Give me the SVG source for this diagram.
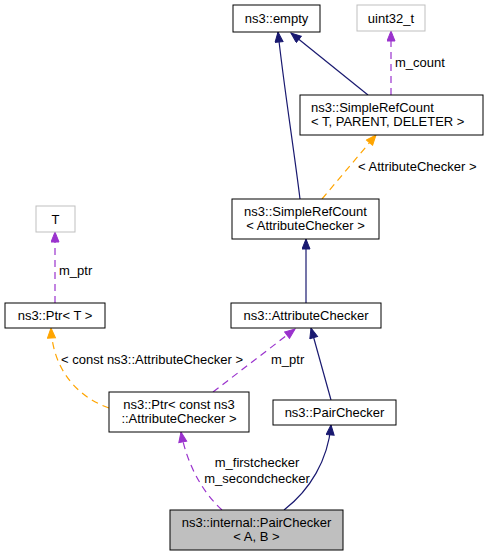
<svg xmlns="http://www.w3.org/2000/svg" width="487" height="557" viewBox="0 0 487 557">
<style>
text{font-family:"Liberation Sans",Arial,sans-serif;font-size:13px;fill:#000}
.c{text-anchor:middle}
.box{fill:#fff;stroke:#000;stroke-width:1}
.gbox{fill:#fff;stroke:#bfbfbf;stroke-width:1}
.sel{fill:#bfbfbf;stroke:#000;stroke-width:1}
.inh{fill:none;stroke:#191970;stroke-width:1.2}
.use{fill:none;stroke:#9a32cd;stroke-width:1.2;stroke-dasharray:7,5}
.tpl{fill:none;stroke:#ffa500;stroke-width:1.2;stroke-dasharray:7,5}
</style>
<defs>
<marker id="aN" markerUnits="userSpaceOnUse" markerWidth="12" markerHeight="10" refX="11" refY="4.5" orient="auto"><path d="M1,0.5 L11,4.5 L1,8.5 z" fill="#191970" stroke="#191970"/></marker>
<marker id="aP" markerUnits="userSpaceOnUse" markerWidth="12" markerHeight="10" refX="11" refY="4.5" orient="auto"><path d="M1,0.5 L11,4.5 L1,8.5 z" fill="#9a32cd" stroke="#9a32cd"/></marker>
<marker id="aO" markerUnits="userSpaceOnUse" markerWidth="12" markerHeight="10" refX="11" refY="4.5" orient="auto"><path d="M1,0.5 L11,4.5 L1,8.5 z" fill="#ffa500" stroke="#ffa500"/></marker>
</defs>
<g id="connectors">
<path class="inh" d="M300,199 C294,150 283,80 278,32" marker-end="url(#aN)"/>
<path class="inh" d="M368,95 L291,33" marker-end="url(#aN)"/>
<path class="use" d="M391,95 L391,31" marker-end="url(#aP)"/>
<text x="395" y="67">m_count</text>
<path class="tpl" d="M322,199 L376,135" marker-end="url(#aO)"/>
<text x="358" y="171">&lt; AttributeChecker &gt;</text>
<path class="inh" d="M306,303 L306,239" marker-end="url(#aN)"/>
<path class="inh" d="M331,400 L311,328" marker-end="url(#aN)"/>
<path class="use" d="M213,392 L295,329" marker-end="url(#aP)"/>
<text x="271" y="364">m_ptr</text>
<path class="tpl" d="M109,408 C80,398 53,372 51,328" marker-end="url(#aO)"/>
<text x="61" y="364">&lt; const ns3::AttributeChecker &gt;</text>
<path class="use" d="M55,303 L55,232" marker-end="url(#aP)"/>
<text x="59" y="275">m_ptr</text>
<path class="inh" d="M284,510 C310,490 328,460 331,425" marker-end="url(#aN)"/>
<path class="use" d="M222,510 C200,490 186,460 181,432" marker-end="url(#aP)"/>
<text class="c" x="257" y="467">m_firstchecker</text>
<text class="c" x="257" y="483">m_secondchecker</text>
</g>
<g id="empty"><rect class="box" x="233" y="5" width="87" height="27"/><text class="c" x="276.5" y="23">ns3::empty</text></g>
<g id="uint32_t"><rect class="gbox" x="357" y="5" width="68" height="26"/><text class="c" x="391" y="23">uint32_t</text></g>
<g id="SimpleRefCountT"><rect class="box" x="300" y="95" width="183" height="40"/><text x="311" y="112">ns3::SimpleRefCount</text><text x="311" y="126">&lt; T, PARENT, DELETER &gt;</text></g>
<g id="SimpleRefCountAC"><rect class="box" x="232" y="199" width="147" height="40"/><text class="c" x="305.5" y="216">ns3::SimpleRefCount</text><text class="c" x="305.5" y="230">&lt; AttributeChecker &gt;</text></g>
<g id="T"><rect class="gbox" x="36" y="206" width="39" height="26"/><text class="c" x="55.5" y="224">T</text></g>
<g id="PtrT"><rect class="box" x="5" y="303" width="100" height="25"/><text class="c" x="55" y="320">ns3::Ptr&lt; T &gt;</text></g>
<g id="AttributeChecker"><rect class="box" x="231" y="303" width="150" height="25"/><text class="c" x="306" y="320">ns3::AttributeChecker</text></g>
<g id="PtrConstAC"><rect class="box" x="109" y="392" width="140" height="40"/><text class="c" x="179" y="409">ns3::Ptr&lt; const ns3</text><text class="c" x="179" y="423">::AttributeChecker &gt;</text></g>
<g id="PairChecker"><rect class="box" x="273" y="400" width="123" height="25"/><text class="c" x="334.5" y="417">ns3::PairChecker</text></g>
<g id="internalPairChecker"><rect class="sel" x="170" y="510" width="173" height="40"/><text class="c" x="256.5" y="527">ns3::internal::PairChecker</text><text class="c" x="256.5" y="541">&lt; A, B &gt;</text></g>
</svg>
